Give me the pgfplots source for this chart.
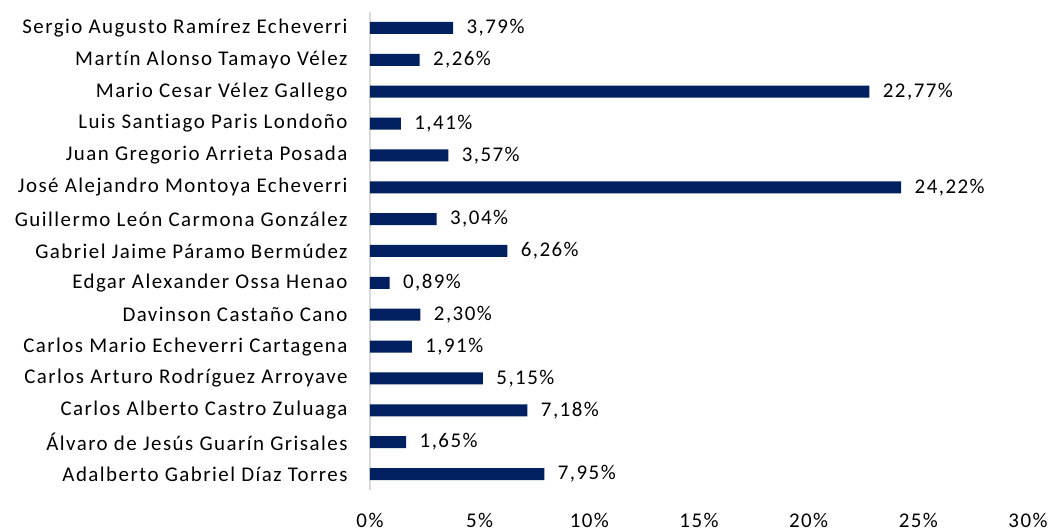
\documentclass[border=0pt]{standalone}
\usepackage{fontspec}
\setmainfont{Carlito}[LetterSpace=7, Ligatures=NoCommon]
\usepackage{pgfplots}
\pgfplotsset{compat=1.18}
\definecolor{barblue}{HTML}{002060}
\definecolor{axisgray}{HTML}{D9D9D9}

\begin{document}
\begin{tikzpicture}
\path[use as bounding box] (-370bp,-41bp) rectangle (681bp,490bp);
\begin{axis}[
  xbar,
  bar width=12bp,
  scale only axis,
  width=658bp,
  height=478bp,
  xmin=0, xmax=30,
  ymin=-0.5, ymax=14.5,
  xtick={0,5,...,30},
  xticklabel={\pgfmathprintnumber{\tick}\%},
  ytick={0,...,14},
  yticklabels={
    Adalberto Gabriel Díaz Torres,
    Álvaro de Jesús Guarín Grisales,
    Carlos Alberto Castro Zuluaga,
    Carlos Arturo Rodríguez Arroyave,
    Carlos Mario Echeverri Cartagena,
    Davinson Castaño Cano,
    Edgar Alexander Ossa Henao,
    Gabriel Jaime Páramo Bermúdez,
    Guillermo León Carmona González,
    José Alejandro Montoya Echeverri,
    Juan Gregorio Arrieta Posada,
    Luis Santiago Paris Londoño,
    Mario Cesar Vélez Gallego,
    Martín Alonso Tamayo Vélez,
    Sergio Augusto Ramírez Echeverri},
  axis lines*=left,
  x axis line style={draw=none},
  y axis line style={draw=axisgray, line width=1.2bp},
  major tick length=0pt,
  tick label style={font=\fontsize{21}{24}\selectfont, text=black},
  /pgf/number format/assume math mode=true,
  xticklabel style={yshift=-20bp},
  yticklabel style={xshift=-19bp},
  nodes near coords={\pgfmathprintnumber[fixed,fixed zerofill,precision=2,use comma]{\pgfplotspointmeta}\%},
  nodes near coords style={font=\fontsize{21}{24}\selectfont, text=black, xshift=10bp},
  clip=false,
]
\addplot[fill=barblue, draw=none] coordinates {
  (7.95,0) (1.65,1) (7.18,2) (5.15,3) (1.91,4) (2.30,5) (0.89,6) (6.26,7)
  (3.04,8) (24.22,9) (3.57,10) (1.41,11) (22.77,12) (2.26,13) (3.79,14)};
\end{axis}
\end{tikzpicture}
\end{document}
